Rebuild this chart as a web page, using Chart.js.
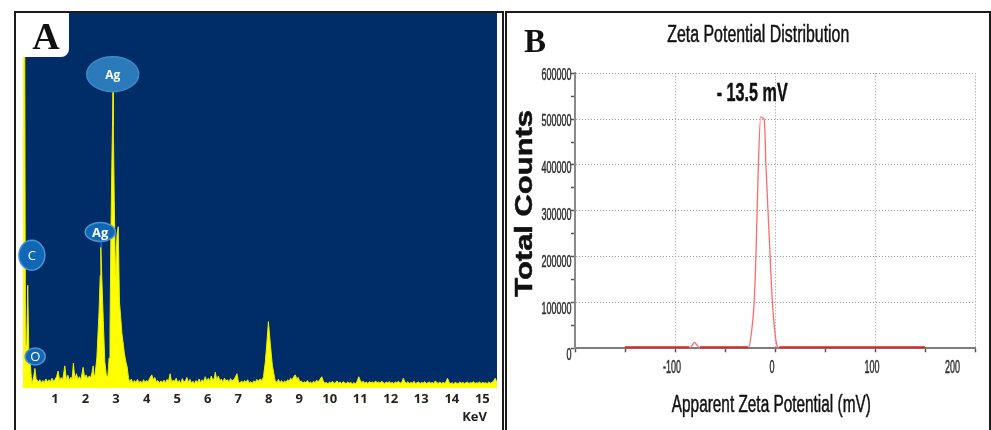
<!DOCTYPE html>
<html>
<head>
<meta charset="utf-8">
<title>EDX spectrum and zeta potential</title>
<script src="https://cdn.jsdelivr.net/npm/chart.js@4.4.0/dist/chart.umd.min.js"></script>
<style>
  html, body { margin: 0; padding: 0; background: #fff; }
  body { width: 991px; height: 430px; position: relative; overflow: hidden; }
  .panel { position: absolute; top: 11px; height: 430px; border: 2px solid #1c1c1c; border-bottom: none; box-sizing: border-box; }
  #panelA { left: 14px; width: 490px; }
  #panelB { left: 505px; width: 486px; }
  canvas { position: absolute; left: 0; top: 0; }
  #tagA { position: absolute; left: 7px; top: 0; width: 46px; height: 44px; background: #fff;
          border-bottom-right-radius: 8px; font: bold 38px "Liberation Serif", serif;
          text-align: center; line-height: 46px; color: #111; }
</style>
</head>
<body>
<div class="panel" id="panelA">
  <canvas id="edx" width="486" height="417"></canvas>
  <div id="tagA">A</div>
</div>
<div class="panel" id="panelB">
  <canvas id="zeta" width="482" height="417"></canvas>
</div>

<script>
// ---- panel A : EDX spectrum (keV, counts in arbitrary units 0-100) ----
const edxSpectrum = [
  [-0.05,100],[0.005,100],[0.03,12],[0.07,11],[0.105,27.4],[0.14,10],[0.18,7.5],[0.22,3],[0.25,1.2],[0.30,3],[0.34,5.2],[0.38,2.5],[0.45,1.6],
  [0.50,2.2],[0.55,1.4],[0.60,2.0],[0.65,1.5],[0.70,2.4],[0.75,1.6],[0.80,2.2],[0.85,1.7],[0.90,2.6],[0.95,1.8],[1.00,2.3],[1.05,3.0],[1.10,4.5],[1.15,1.9],[1.20,2.8],[1.25,2.1],[1.32,5.9],[1.37,2.2],[1.42,3.4],[1.47,2.0],[1.52,2.9],[1.56,2.3],[1.60,6.6],[1.65,2.5],[1.70,3.8],[1.75,2.3],[1.80,3.0],[1.85,2.2],[1.92,5.5],[1.97,2.6],[2.02,3.5],[2.07,2.4],[2.12,3.2],[2.17,2.8],[2.21,4.0],[2.25,5.9],[2.28,3.2],
  [2.31,3.5],[2.37,8],[2.44,20],[2.48,30],[2.50,37.6],[2.53,30],[2.58,18],[2.63,7],[2.68,3.5],[2.73,3],
  [2.77,8],[2.80,15],[2.83,41],[2.86,59],[2.89,74],[2.90,79],[2.91,70],[2.94,50],[2.98,29.7],[3.03,41],[3.07,43],[3.11,23],[3.15,19],[3.19,14.6],[3.23,12],[3.27,9.3],[3.32,7],[3.36,5.7],[3.41,2.5],
  [3.45,1.6],[3.50,2.4],[3.55,1.3],[3.60,2.0],[3.65,1.5],[3.70,2.3],[3.75,1.4],[3.80,1.9],[3.85,1.2],[3.90,2.2],[3.95,1.5],[4.00,2.0],[4.05,1.6],[4.10,2.6],[4.17,3.5],[4.22,2.2],[4.27,2.8],[4.32,1.6],[4.37,2.0],[4.42,1.3],[4.47,1.9],[4.52,1.5],[4.57,2.1],[4.62,1.4],[4.67,2.3],[4.72,1.8],[4.77,3.8],[4.82,1.5],[4.87,2.1],[4.92,1.8],[4.97,2.6],
  [5.02,1.4],[5.07,2.0],[5.12,1.2],[5.17,2.5],[5.22,1.6],[5.27,1.9],[5.32,2.8],[5.37,1.5],[5.42,2.3],[5.47,1.3],[5.52,1.8],[5.57,1.2],[5.62,2.0],[5.67,1.5],[5.72,2.4],[5.77,1.4],[5.82,2.2],[5.87,1.7],[5.92,3.0],[5.97,1.8],
  [6.02,2.6],[6.07,1.9],[6.12,3.2],[6.17,2.0],[6.22,2.7],[6.25,4.2],[6.30,2.0],[6.35,3.2],[6.40,1.8],[6.45,2.4],[6.50,1.5],[6.55,2.6],[6.60,1.9],[6.65,2.2],[6.70,1.6],[6.75,2.5],[6.80,1.9],[6.85,2.2],[6.90,2.8],[6.96,3.8],
  [7.01,1.6],[7.06,1.3],[7.11,1.9],[7.16,1.4],[7.21,2.0],[7.26,1.5],[7.31,2.2],[7.36,1.3],[7.41,1.7],[7.46,1.2],[7.51,1.9],[7.56,1.5],[7.61,2.3],[7.66,1.8],[7.72,2.4],[7.78,2.0],
  [7.83,3],[7.89,7],[7.94,12],[7.99,17.7],[8.05,12],[8.12,6],[8.21,2],
  [8.27,1.5],[8.32,2.3],[8.37,1.4],[8.42,2.0],[8.47,1.3],[8.52,1.9],[8.57,1.5],[8.62,2.2],[8.67,1.8],[8.72,2.6],[8.77,2.2],[8.82,3.0],[8.87,3.5],[8.92,2.5],[8.97,2.8],
  [9.02,1.6],[9.07,1.9],[9.12,1.3],[9.17,1.7],[9.22,1.4],[9.27,2.0],[9.32,1.3],[9.37,1.6],[9.42,1.2],[9.47,1.8],[9.52,1.4],[9.57,2.1],[9.62,1.6],[9.67,2.2],[9.74,3.0],[9.79,1.8],[9.84,1.3],[9.89,1.5],[9.94,1.1],[9.99,1.6],
  [10.04,1.3],[10.09,1.8],[10.14,1.2],[10.19,1.5],[10.24,1.9],[10.29,1.3],[10.34,1.6],[10.39,1.2],[10.44,1.7],[10.49,1.4],[10.54,1.2],[10.59,1.6],[10.64,1.3],[10.69,1.5],[10.74,1.1],[10.79,1.4],[10.84,1.2],[10.89,1.6],[10.95,3.0],
  [11.00,2.0],[11.05,1.5],[11.10,1.8],[11.15,1.3],[11.20,1.6],[11.25,1.2],[11.30,1.7],[11.35,1.4],[11.40,1.6],[11.45,1.3],[11.50,1.9],[11.55,1.4],[11.60,1.6],[11.65,1.3],[11.70,1.8],[11.75,1.5],[11.80,1.2],[11.85,1.6],[11.90,1.4],[11.95,1.7],
  [12.00,1.3],[12.05,1.5],[12.10,1.2],[12.15,1.6],[12.20,1.4],[12.25,1.8],[12.30,1.3],[12.36,1.5],[12.41,2.6],[12.46,1.6],[12.51,1.3],[12.56,1.7],[12.61,1.2],[12.66,1.5],[12.71,1.3],[12.76,1.8],[12.81,1.2],[12.86,1.4],[12.91,1.6],[12.96,1.2],
  [13.01,1.5],[13.06,1.3],[13.11,1.7],[13.16,1.2],[13.21,1.4],[13.26,1.6],[13.31,1.3],[13.36,1.5],[13.41,1.2],[13.46,1.9],[13.51,1.4],[13.56,1.3],[13.61,1.6],[13.66,1.2],[13.71,1.5],[13.76,1.3],[13.81,1.7],[13.86,2.6],[13.91,1.5],[13.96,1.2],
  [14.01,1.4],[14.06,1.1],[14.11,1.5],[14.16,1.3],[14.21,1.2],[14.26,1.6],[14.31,1.3],[14.36,1.5],[14.41,1.2],[14.46,1.4],[14.51,1.6],[14.56,1.2],[14.61,1.5],[14.66,1.3],[14.71,1.7],[14.76,1.2],[14.81,1.4],[14.86,1.3],[14.91,1.6],[14.96,1.2],
  [15.01,1.5],[15.06,1.3],[15.11,1.4],[15.16,1.2],[15.21,1.6],[15.26,1.3],[15.31,1.5],[15.36,1.8],[15.42,2.6],[15.48,1.5]
];
const edxTicks = [1, 2, 3, 4, 5, 6, 7, 8, 9, 10, 11, 12, 13, 14, 15];
// element markers (name, keV, height of the bubble centre)
const edxPeakNames = ['C', 'O', 'Ag', 'Ag'];
const edxPeakKeV = [0.24, 0.35, 2.48, 2.89];
const edxPeakCounts = [35.4, 8.4, 41.6, 83.7];

// ---- panel B : zeta potential distribution ----
const zetaPotential = [-150, -85.7, -83, -80.7, -78, -75, -26.7, -23.5, -20.7, -19, -16.7, -14.3, -12.3, -10.7, -9, -5, -2.7, 0, 2.3, 4.3, 150];
const zetaCounts = [0, 0, 6000, 13000, 7000, 0, 0, 35000, 105000, 207000, 396000, 505000, 503000, 498000, 396000, 207000, 105000, 33000, 4000, 0, 0];
const zetaXLabels = [-100, 0, 100, 200];
const zetaYLabels = [0, 100000, 200000, 300000, 400000, 500000, 600000];
const zetaPeakText = '- 13.5 mV';

// bubble looks, same order as edxPeakNames
const bubbleStyle = [
  { rx: 13, ry: 15, fill: '#0f67b6', edge: '#4d93d3', font: '13px "Open Sans", sans-serif', tail: 0 },
  { rx: 10, ry: 8.5, fill: '#0f67b6', edge: '#4d93d3', font: '13px "Open Sans", sans-serif', tail: 0 },
  { rx: 15, ry: 9.5, fill: '#0f67b6', edge: '#4d93d3', font: 'bold 13px "Open Sans", sans-serif', tail: 6 },
  { rx: 26, ry: 17.5, fill: '#2a7aba', edge: '#3f8ac6', font: 'bold 12px "Open Sans", sans-serif', tail: 0 }
];

const edxBackground = {
  id: 'edxBackground',
  beforeDraw(chart) {
    const { ctx, chartArea: a } = chart;
    ctx.save();
    ctx.fillStyle = '#002d68';
    ctx.fillRect(a.left, a.top, a.right - a.left, a.bottom - a.top);
    ctx.restore();
  }
};

const edxBubbles = {
  id: 'edxBubbles',
  afterDraw(chart) {
    const { ctx } = chart;
    const x = chart.scales.x, y = chart.scales.y;
    edxPeakNames.forEach((name, i) => {
      const st = bubbleStyle[i];
      const cx = x.getPixelForValue(edxPeakKeV[i]);
      const cy = y.getPixelForValue(edxPeakCounts[i]);
      ctx.save();
      if (st.tail) {
        ctx.strokeStyle = st.fill;
        ctx.lineWidth = 2;
        ctx.beginPath();
        ctx.moveTo(cx + 1, cy + st.ry - 1);
        ctx.lineTo(cx + 1, cy + st.ry + st.tail);
        ctx.stroke();
      }
      ctx.beginPath();
      ctx.ellipse(cx, cy, st.rx, st.ry, 0, 0, Math.PI * 2);
      ctx.fillStyle = st.fill;
      ctx.fill();
      ctx.lineWidth = 1.5;
      ctx.strokeStyle = st.edge;
      ctx.stroke();
      ctx.fillStyle = '#fff';
      ctx.font = st.font;
      ctx.textAlign = 'center';
      ctx.textBaseline = 'middle';
      ctx.fillText(name, cx, cy + 1);
      ctx.restore();
    });
    // unit label under the axis
    ctx.save();
    ctx.font = 'bold 13px "Open Sans", sans-serif';
    ctx.fillStyle = '#222';
    ctx.textAlign = 'right';
    ctx.textBaseline = 'middle';
    ctx.fillText('KeV', x.right - 10, 404);
    ctx.restore();
  }
};

new Chart(document.getElementById('edx'), {
  type: 'line',
  data: {
    datasets: [{
      data: edxSpectrum.map(p => ({ x: p[0], y: p[1] })),
      fill: 'origin',
      backgroundColor: '#ffff00',
      borderColor: '#ecec00',
      borderWidth: 1,
      pointRadius: 0,
      tension: 0
    }]
  },
  options: {
    responsive: false,
    animation: false,
    devicePixelRatio: 1,
    layout: { padding: { left: 7, right: 5, top: 0, bottom: 0 } },
    scales: {
      x: {
        type: 'linear', min: -0.05, max: 15.48,
        grid: { display: false, drawTicks: false },
        border: { display: false },
        afterBuildTicks: s => { s.ticks = edxTicks.map(v => ({ value: v })); },
        afterFit: s => { s.height = 42; },
        ticks: { autoSkip: false, maxRotation: 0, padding: 3, color: '#2a2118',
                 font: { family: '"Open Sans", sans-serif', size: 13, weight: 'bold' } }
      },
      y: { display: false, min: 0, max: 100 }
    },
    plugins: { legend: { display: false }, tooltip: { enabled: false } }
  },
  plugins: [edxBackground, edxBubbles]
});

// draw text squeezed horizontally by sx
function squeezeText(ctx, text, x, y, font, sx, align, color) {
  ctx.save();
  ctx.font = font;
  ctx.fillStyle = color;
  ctx.textAlign = align;
  ctx.translate(x, y);
  ctx.scale(sx, 1);
  ctx.fillText(text, 0, 0);
  ctx.strokeStyle = color;
  ctx.lineWidth = 0.5;
  ctx.strokeText(text, 0, 0);
  ctx.restore();
}
function widthOf(ctx, text, font) {
  ctx.save();
  ctx.font = font;
  const w = ctx.measureText(text).width;
  ctx.restore();
  return w;
}

const zetaText = {
  id: 'zetaText',
  afterDraw(chart) {
    const { ctx } = chart;
    const x = chart.scales.x, y = chart.scales.y;
    const narrow = '"Liberation Sans", Arial, sans-serif';

    // tick labels
    const yFont = '16px ' + narrow;
    const ySx = 30 / widthOf(ctx, '600000', yFont);
    zetaYLabels.forEach(v => {
      const py = y.getPixelForValue(v) + 2 + (600000 - v) / 600000 * 5.7;
      ctx.save(); ctx.textBaseline = 'middle';
      squeezeText(ctx, String(v), x.left - 3.5, py, yFont, ySx, 'right', '#2e2e2e');
      ctx.restore();
    });
    const xFont = '18px ' + narrow;
    const xSx = 15 / widthOf(ctx, '100', xFont);
    zetaXLabels.forEach(v => {
      const px = x.getPixelForValue(v);
      ctx.save(); ctx.textBaseline = 'middle';
      if (v === x.max) squeezeText(ctx, String(v), px - 15, 355, xFont, xSx, 'right', '#2e2e2e');
      else squeezeText(ctx, String(v), px - 3, 355, xFont, xSx, 'center', '#2e2e2e');
      ctx.restore();
    });

    ctx.textBaseline = 'alphabetic';
    // panel letter
    ctx.save();
    ctx.font = 'bold 33px "Liberation Serif", serif';
    ctx.fillStyle = '#111';
    ctx.textAlign = 'center';
    ctx.fillText('B', 28, 38.7);
    ctx.restore();

    // title
    const tFont = '23px ' + narrow;
    squeezeText(ctx, 'Zeta Potential Distribution', 251.3, 28.7, tFont,
      182 / widthOf(ctx, 'Zeta Potential Distribution', tFont), 'center', '#111');

    // peak annotation
    const aFont = 'bold 26px ' + narrow;
    squeezeText(ctx, zetaPeakText, 245.2, 87.7, aFont, 71 / widthOf(ctx, zetaPeakText, aFont), 'center', '#111');

    // axis titles
    const xtFont = '23px ' + narrow;
    squeezeText(ctx, 'Apparent Zeta Potential (mV)', 264.3, 398.7, xtFont,
      199 / widthOf(ctx, 'Apparent Zeta Potential (mV)', xtFont), 'center', '#111');

    const ytFont = 'bold 23px "Liberation Sans", Arial, sans-serif';
    ctx.save();
    ctx.translate(24.7, 190.3);
    ctx.rotate(-Math.PI / 2);
    squeezeText(ctx, 'Total Counts', 0, 0, ytFont, 186.7 / widthOf(ctx, 'Total Counts', ytFont), 'center', '#111');
    ctx.restore();
  }
};

const isFlat = c => c.p0.parsed.y === 0 && c.p1.parsed.y === 0;

new Chart(document.getElementById('zeta'), {
  type: 'line',
  data: {
    datasets: [{
      data: zetaPotential.map((v, i) => ({ x: v, y: zetaCounts[i] })),
      borderColor: '#ff6a6a',
      borderWidth: 1.3,
      pointRadius: 0,
      cubicInterpolationMode: 'monotone',
      segment: {
        borderColor: c => isFlat(c) ? '#dd2222' : '#ff6a6a',
        borderWidth: c => isFlat(c) ? 4 : 1.3
      }
    }]
  },
  options: {
    responsive: false,
    animation: false,
    devicePixelRatio: 1,
    layout: { padding: { left: 8, right: 14, top: 60.3, bottom: 41.7 } },
    scales: {
      x: {
        type: 'linear', min: -200, max: 200, z: 1,
        ticks: { display: false, stepSize: 50, autoSkip: false },
        grid: {
          color: c => (c.tick.value % 100 === 0 && c.tick.value > -200) ? '#9a9a9a' : 'rgba(0,0,0,0)',
          tickColor: '#555', tickLength: 4, tickWidth: 1.5, tickBorderDash: []
        },
        border: { color: '#7c7c7c', width: 2, dash: [1, 2] },
        afterFit: s => { s.height = 40; }
      },
      y: {
        min: 0, max: 600000,
        ticks: { display: false, stepSize: 50000 },
        grid: {
          color: c => (c.tick.value % 100000 === 0 && c.tick.value > 0) ? '#9a9a9a' : 'rgba(0,0,0,0)',
          tickColor: '#555', tickLength: 4, tickWidth: 1.5, tickBorderDash: []
        },
        border: { color: '#8a8a8a', width: 2, dash: [1, 2] },
        afterFit: s => { s.width = 60; }
      }
    },
    plugins: { legend: { display: false }, tooltip: { enabled: false } }
  },
  plugins: [zetaText]
});
</script>
</body>
</html>
